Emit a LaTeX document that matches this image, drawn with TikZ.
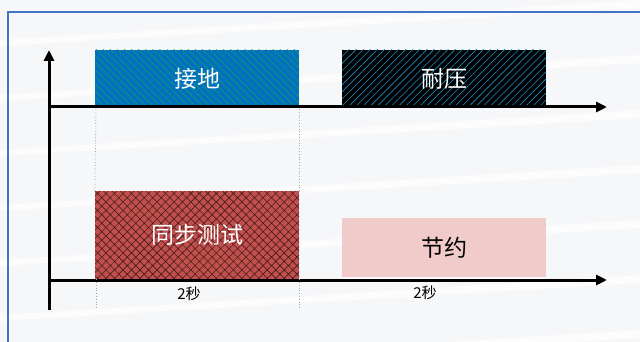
\documentclass[tikz,border=0pt]{standalone}
\usepackage{fontspec}
\setmainfont{Noto Sans CJK SC}
\usetikzlibrary{arrows.meta,patterns.meta}
\definecolor{bgc}{HTML}{F6F7F9}
\definecolor{framec}{HTML}{4472C4}
\definecolor{bluebox}{HTML}{0070C0}
\definecolor{greenline}{HTML}{1FA05A}
\definecolor{cyanline}{HTML}{1A8FC4}
\definecolor{redbox}{HTML}{C0504D}
\definecolor{redline}{HTML}{4A1A18}
\definecolor{pinkbox}{HTML}{F0CBCA}
\tikzset{
  box/.style={inner sep=0pt, minimum width=204pt, font=\fontsize{23}{23}\selectfont},
  axis/.style={line width=3pt, -{Triangle[length=11pt,width=10pt]}},
  guide/.style={gray!70, line width=0.8pt, dotted},
  timelbl/.style={font=\fontsize{15}{15}\selectfont, text=black}
}
\begin{document}
\begin{tikzpicture}[x=1pt,y=-1pt]
\useasboundingbox (0,0) rectangle (640,342);
\fill[bgc] (0,0) rectangle (640,342);
\foreach \yy in {40,95,150,205,260,315,370}{
  \fill[white,opacity=0.7] (0,\yy) -- (640,\yy-40) -- (640,\yy-32) -- (0,\yy+6) -- cycle;
}
\draw[framec, line width=1.5pt] (8,345) -- (8,12) -- (645,12);
% boxes
\node[box, minimum height=58pt, fill=bluebox, text=white,
  postaction={pattern={Lines[angle=-45,distance=5pt,line width=0.5pt]}, pattern color=greenline}]
  (jiedi) at (197,79) {接地};
\node[box, minimum height=57pt, fill=black, text=white,
  postaction={pattern={Lines[angle=45,distance=5pt,line width=0.6pt]}, pattern color=cyanline}]
  (naiya) at (444,78.5) {耐压};
\node[box, minimum height=88pt, fill=redbox, text=white,
  postaction={pattern={Hatch[angle=45,distance=6pt,line width=0.6pt]}, pattern color=redline}]
  (tongbu) at (197,235) {同步测试};
\node[box, minimum height=59pt, fill=pinkbox, text=black]
  (jieyue) at (444,247.5) {节约};
% axes
\coordinate (origin) at (49,310);
\coordinate (ytop) at (49,50);
\coordinate (up0) at (49,107);
\coordinate (upend) at (607,107);
\coordinate (lo0) at (49,280);
\coordinate (loend) at (607,280);
\draw[axis] (origin) -- (ytop);
\draw[axis] (up0) -- (upend);
\draw[axis] (lo0) -- (loend);
% guides
\coordinate (g1a) at (96,109);
\coordinate (g1b) at (96,310);
\coordinate (g2a) at (299,109);
\coordinate (g2b) at (299,310);
\draw[guide] (g1a) -- (jiedi.south west |- tongbu.north);
\draw[guide] (g1a |- tongbu.south) -- (g1b);
\draw[guide] (g2a) -- (g2a |- tongbu.north);
\draw[guide] (g2a |- tongbu.south) -- (g2b);
% labels
\node[timelbl] (t1) at (189,294) {2秒};
\node[timelbl] (t2) at (425,293) {2秒};
\end{tikzpicture}
\end{document}
